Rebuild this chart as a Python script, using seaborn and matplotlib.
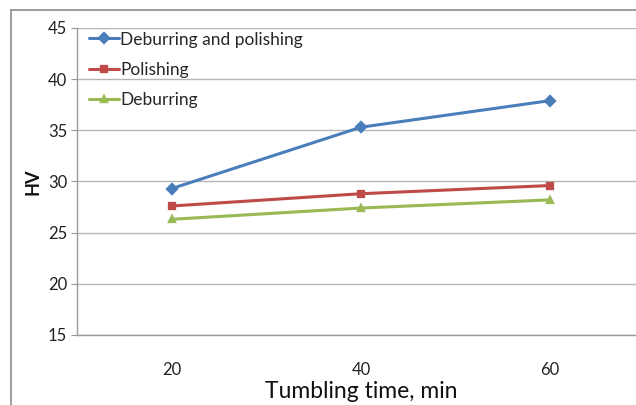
import pandas as pd
import matplotlib.pyplot as plt
import seaborn as sns
from matplotlib.lines import Line2D

# Data
times = ['20', '40', '60']
deburr_polish = [29.3, 35.3, 37.9]
polishing = [27.6, 28.8, 29.6]
deburring = [26.3, 27.4, 28.2]
series_names = ['Deburring and polishing', 'Polishing', 'Deburring']

df = pd.DataFrame({
    'time': times * 3,
    'HV': deburr_polish + polishing + deburring,
    'series': [s for s in series_names for _ in times],
})

sns.set_style('white')
plt.rcParams['font.family'] = ['Lato', 'DejaVu Sans']

fig = plt.figure(figsize=(6.36, 4.05), dpi=100)
ax = fig.add_axes([0.121, 0.173, 0.893, 0.758])

colors = ['#4A7EBB', '#BE4B48', '#98B954']
sns.pointplot(data=df, x='time', y='HV', hue='series', order=times,
              hue_order=series_names, palette=colors,
              markers=['D', 's', '^'], linestyles='-', ax=ax,
              linewidth=2.2, markersize=5)

ax.set_ylim(15, 45)
ax.set_yticks(range(15, 46, 5))
ax.set_xlim(-0.5, 2.5)
ax.yaxis.grid(True, color='#B5B5B5', linewidth=1)
ax.set_axisbelow(True)
for s in ['top', 'right']:
    ax.spines[s].set_visible(False)
for s in ['left', 'bottom']:
    ax.spines[s].set_color('#9A9A9A')
    ax.spines[s].set_linewidth(1)
ax.tick_params(axis='y', left=True, length=4, color='#9A9A9A',
               labelsize=12, labelcolor='#222222', pad=3)
ax.tick_params(axis='x', bottom=False, labelsize=12, labelcolor='#222222', pad=16)

ax.set_xlabel('Tumbling time, min', fontsize=16.5, color='#111111', labelpad=2)
ax.set_ylabel('HV', fontsize=13, fontweight='bold', color='#111111', labelpad=5)

ax.legend(loc='upper left', bbox_to_anchor=(0.0, 1.028), frameon=False,
          fontsize=12.5, handlelength=1.7, handletextpad=0.1,
          labelspacing=0.82, borderaxespad=0.3)

# outer chart frame (cropped Excel chart area)
fig.add_artist(Line2D([11 / 636, 11 / 636], [0, 1 - 10 / 405],
                      transform=fig.transFigure, color='#8C8C8C', linewidth=1.2))
fig.add_artist(Line2D([11 / 636, 1], [1 - 10 / 405, 1 - 10 / 405],
                      transform=fig.transFigure, color='#8C8C8C', linewidth=1.2))

fig.savefig('out.png', dpi=100)
